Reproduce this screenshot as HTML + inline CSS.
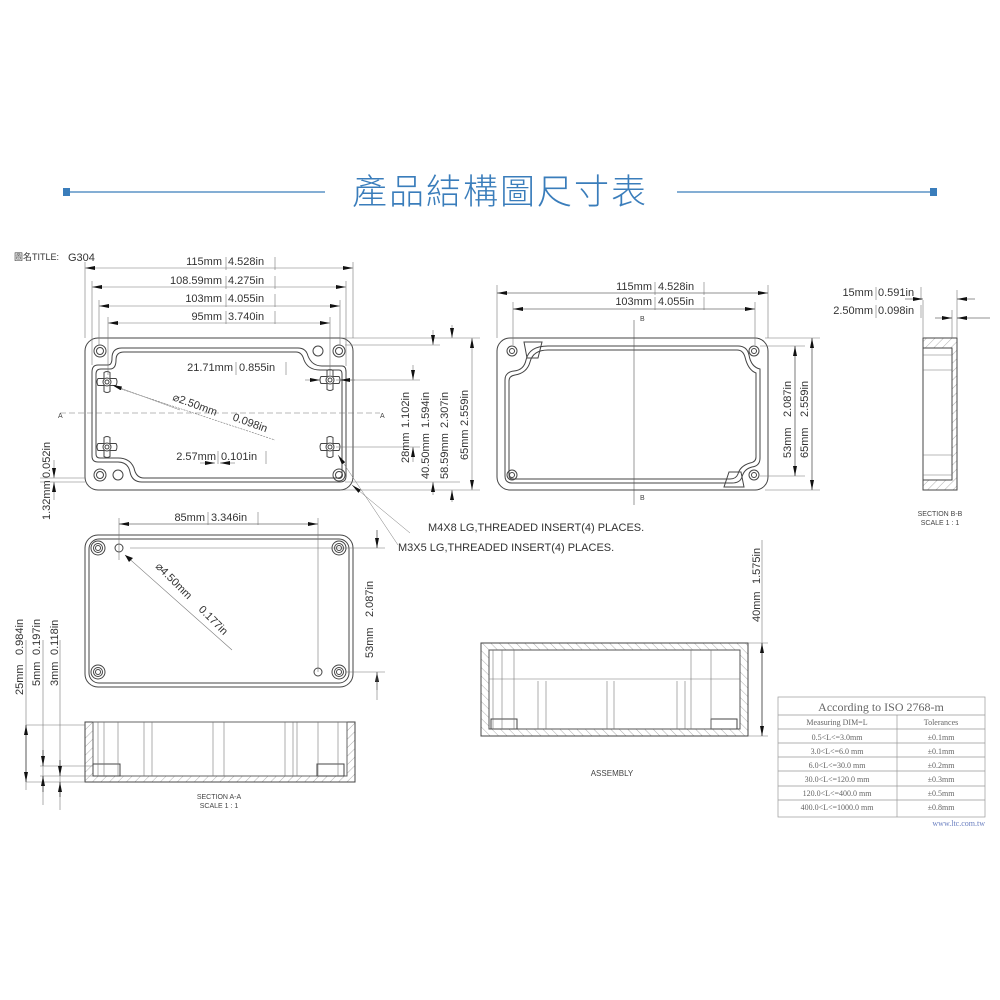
<!DOCTYPE html>
<html><head><meta charset="utf-8"><style>
html,body{margin:0;padding:0;background:#fff;}
svg{display:block;font-family:"Liberation Sans","Noto Sans CJK TC",sans-serif;}
.l{stroke:#444;stroke-width:1;fill:none}
.t{stroke:#777;stroke-width:.6;fill:none}
.d{font-size:11px;fill:#333}
.s{font-size:7px;fill:#444}
.tb{font-family:"Liberation Serif",serif;fill:#666}
</style></head><body>
<svg width="1000" height="1000" viewBox="0 0 1000 1000">
<defs>
<marker id="a" viewBox="0 0 10 4" refX="10" refY="2" markerWidth="10" markerHeight="4" orient="auto-start-reverse" markerUnits="userSpaceOnUse"><path d="M0 0L10 2L0 4z" fill="#111"/></marker>
<pattern id="h" width="6" height="6" patternUnits="userSpaceOnUse" patternTransform="rotate(45)"><line x1="0" y1="0" x2="0" y2="6" stroke="#777" stroke-width=".6"/></pattern>
<pattern id="h2" width="6" height="6" patternUnits="userSpaceOnUse" patternTransform="rotate(-45)"><line x1="0" y1="0" x2="0" y2="6" stroke="#777" stroke-width=".6"/></pattern>
<g id="boss" fill="none" stroke="#444"><path d="M-3 -10 Q0 -12 3 -10 V-4 H9 Q11 -1 9 3 H3 V9 Q0 11 -3 9 V3 H-9 Q-11 -1 -9 -4 H-3Z" transform="translate(0,0.5)"/><circle r="4"/><circle r="2"/></g>
</defs>

<!-- title -->
<line x1="66" y1="192" x2="325" y2="192" stroke="#3a7dbb" stroke-width="1.2"/>
<rect x="63" y="188" width="7" height="8" fill="#3a7dbb"/>
<line x1="677" y1="192" x2="935" y2="192" stroke="#3a7dbb" stroke-width="1.2"/>
<rect x="930" y="188" width="7" height="8" fill="#3a7dbb"/>
<text x="500" y="204" text-anchor="middle" font-size="35" font-weight="300" fill="#3a7dbb" letter-spacing="2" style="font-family:'Noto Sans CJK TC',sans-serif">產品結構圖尺寸表</text>

<text x="14" y="260" font-size="9" fill="#333">圖名TITLE:</text><text x="68" y="261" font-size="11" fill="#333">G304</text>

<!-- top-left view -->
<g class="l">
<rect x="85" y="338" width="268" height="152" rx="13"/>
<path d="M98 365 H108 Q112 365 112 358 Q112 348 122 348 H298 Q306 348 308 356 Q312 366 322 366 H342 Q346 366 346 372 V476 Q346 482 340 482 H142 Q132 482 130 472 Q128 462 118 462 H98 Q92 462 92 456 V372 Q92 365 98 365Z"/>
<path d="M101 369 H110 Q116 369 116 360 Q116 352 124 352 H296 Q302 352 304 360 Q308 370 320 370 H339 Q342 370 342 374 V474 Q342 478 338 478 H144 Q136 478 134 468 Q130 458 118 458 H100 Q96 458 96 454 V374 Q96 369 101 369Z"/>
<circle cx="100" cy="351" r="6"/><circle cx="100" cy="351" r="3.5"/>
<circle cx="339" cy="351" r="6"/><circle cx="339" cy="351" r="3.5"/>
<circle cx="100" cy="475" r="6"/><circle cx="100" cy="475" r="3.5"/>
<circle cx="339" cy="475" r="6"/><circle cx="339" cy="475" r="3.5"/>
<circle cx="318" cy="351" r="5"/><circle cx="118" cy="475" r="5"/>
</g>
<use href="#boss" x="107" y="382"/><use href="#boss" x="330" y="380"/>
<use href="#boss" x="107" y="447"/><use href="#boss" x="330" y="447"/>
<g class="t">
<line x1="85" y1="262" x2="85" y2="338"/><line x1="353" y1="262" x2="353" y2="338"/>
<line x1="92" y1="281" x2="92" y2="365"/><line x1="346" y1="281" x2="346" y2="366"/>
<line x1="99" y1="300" x2="99" y2="345"/><line x1="340" y1="300" x2="340" y2="345"/>
<line x1="108" y1="317" x2="108" y2="375"/><line x1="330" y1="317" x2="330" y2="375"/>
<line x1="60" y1="413" x2="380" y2="413" stroke-dasharray="6 3"/>
<line x1="340" y1="338" x2="480" y2="338"/><line x1="340" y1="490" x2="480" y2="490"/>
<line x1="336" y1="380" x2="420" y2="380"/><line x1="336" y1="447" x2="420" y2="447"/>
<line x1="345" y1="345" x2="440" y2="345"/><line x1="345" y1="482" x2="460" y2="482"/>
<line x1="118" y1="388" x2="275" y2="440" stroke-dasharray="2 1"/>
<line x1="40" y1="478" x2="85" y2="478"/><line x1="40" y1="482" x2="85" y2="482"/>
</g>
<g class="t" stroke="#222">
<line x1="85" y1="268" x2="353" y2="268" marker-start="url(#a)" marker-end="url(#a)"/>
<line x1="92" y1="287" x2="346" y2="287" marker-start="url(#a)" marker-end="url(#a)"/>
<line x1="99" y1="306" x2="340" y2="306" marker-start="url(#a)" marker-end="url(#a)"/>
<line x1="108" y1="323" x2="330" y2="323" marker-start="url(#a)" marker-end="url(#a)"/>
<line x1="413" y1="365" x2="413" y2="380" marker-end="url(#a)"/><line x1="413" y1="462" x2="413" y2="447" marker-end="url(#a)"/>
<line x1="433" y1="330" x2="433" y2="345" marker-end="url(#a)"/><line x1="433" y1="495" x2="433" y2="482" marker-end="url(#a)"/>
<line x1="452" y1="325" x2="452" y2="338" marker-end="url(#a)"/><line x1="452" y1="502" x2="452" y2="490" marker-end="url(#a)"/>
<line x1="472" y1="338" x2="472" y2="490" marker-start="url(#a)" marker-end="url(#a)"/>
<line x1="54" y1="460" x2="54" y2="478" marker-end="url(#a)"/><line x1="54" y1="500" x2="54" y2="482" marker-end="url(#a)"/>
<line x1="305" y1="380" x2="320" y2="380" marker-end="url(#a)"/><line x1="355" y1="380" x2="340" y2="380" marker-end="url(#a)"/>
<line x1="200" y1="463" x2="215" y2="463" marker-end="url(#a)"/><line x1="235" y1="463" x2="220" y2="463" marker-end="url(#a)"/>
<line x1="180" y1="410" x2="112" y2="385" marker-end="url(#a)" stroke-width=".5"/>
<line x1="410" y1="533" x2="352" y2="485" stroke-width=".5" marker-end="url(#a)"/>
<line x1="398" y1="545" x2="338" y2="455" stroke-width=".5" marker-end="url(#a)"/>
</g>
<g class="d">
<text x="222" y="265" text-anchor="end">115mm</text><text x="228" y="265">4.528in</text><path d="M226 257V270M275 257V270" class="t"/>
<text x="222" y="284" text-anchor="end">108.59mm</text><text x="228" y="284">4.275in</text><path d="M226 276V289M275 276V289" class="t"/>
<text x="222" y="302" text-anchor="end">103mm</text><text x="228" y="302">4.055in</text><path d="M226 294V307M275 294V307" class="t"/>
<text x="222" y="320" text-anchor="end">95mm</text><text x="228" y="320">3.740in</text><path d="M226 311V324M275 311V324" class="t"/>
<text x="233" y="371" text-anchor="end">21.71mm</text><text x="239" y="371">0.855in</text><path d="M236 362V375M286 362V375" class="t"/>
<text x="216" y="460" text-anchor="end">2.57mm</text><text x="221" y="460">0.101in</text><path d="M218 451V464M266 451V464" class="t"/>
<text transform="translate(172,400) rotate(20)">⌀2.50mm</text><text transform="translate(232,420) rotate(20)">0.098in</text>
<text transform="translate(409,463) rotate(-90)">28mm</text><text transform="translate(409,428) rotate(-90)">1.102in</text>
<text transform="translate(429,479) rotate(-90)">40.50mm</text><text transform="translate(429,428) rotate(-90)">1.594in</text>
<text transform="translate(448,479) rotate(-90)">58.59mm</text><text transform="translate(448,428) rotate(-90)">2.307in</text>
<text transform="translate(468,460) rotate(-90)">65mm</text><text transform="translate(468,426) rotate(-90)">2.559in</text>
<text transform="translate(50,520) rotate(-90)">1.32mm</text><text transform="translate(50,478) rotate(-90)">0.052in</text>
<text x="428" y="531">M4X8 LG,THREADED INSERT(4) PLACES.</text>
<text x="398" y="551">M3X5 LG,THREADED INSERT(4) PLACES.</text>
</g>
<text x="58" y="418" class="s">A</text><text x="380" y="418" class="s">A</text>

<!-- bottom-left view -->
<g class="l">
<rect x="85" y="535" width="268" height="152" rx="13"/>
<rect x="89" y="539" width="260" height="144" rx="10"/>
<circle cx="98" cy="548" r="7"/><circle cx="98" cy="548" r="4.5"/><circle cx="98" cy="548" r="2.5"/>
<circle cx="339" cy="548" r="7"/><circle cx="339" cy="548" r="4.5"/><circle cx="339" cy="548" r="2.5"/>
<circle cx="98" cy="672" r="7"/><circle cx="98" cy="672" r="4.5"/><circle cx="98" cy="672" r="2.5"/>
<circle cx="339" cy="672" r="7"/><circle cx="339" cy="672" r="4.5"/><circle cx="339" cy="672" r="2.5"/>
<circle cx="119" cy="548" r="4"/><circle cx="318" cy="672" r="4"/>
</g>
<g class="t">
<line x1="119" y1="518" x2="119" y2="560"/><line x1="318" y1="518" x2="318" y2="672"/>
<line x1="130" y1="548" x2="385" y2="548"/><line x1="345" y1="672" x2="385" y2="672"/>
<line x1="119" y1="524" x2="318" y2="524" stroke="#222" marker-start="url(#a)" marker-end="url(#a)"/>
<line x1="377" y1="530" x2="377" y2="548" stroke="#222" marker-end="url(#a)"/><line x1="377" y1="690" x2="377" y2="672" stroke="#222" marker-end="url(#a)"/>
<line x1="377" y1="672" x2="377" y2="700"/>
<line x1="125" y1="555" x2="232" y2="650"/>
</g>
<path d="M125 555 l8 3 -4 4z" fill="#111"/>
<g class="d">
<text x="205" y="521" text-anchor="end">85mm</text><text x="211" y="521">3.346in</text><path d="M208 512V525M258 512V525" class="t"/>
<text transform="translate(373,658) rotate(-90)">53mm</text><text transform="translate(373,617) rotate(-90)">2.087in</text>
<text transform="translate(155,567) rotate(45)">⌀4.50mm</text><text transform="translate(198,610) rotate(45)">0.177in</text>
<text transform="translate(23,695) rotate(-90)">25mm</text><text transform="translate(23,655) rotate(-90)">0.984in</text>
<text transform="translate(40,686) rotate(-90)">5mm</text><text transform="translate(40,655) rotate(-90)">0.197in</text>
<text transform="translate(58,686) rotate(-90)">3mm</text><text transform="translate(58,655) rotate(-90)">0.118in</text>
</g>

<!-- section A-A -->
<g class="l">
<path d="M85 722 H355 V782 H85Z" fill="url(#h)"/>
<rect x="93" y="722" width="254" height="54" fill="#fff" stroke="#666"/>
<rect x="93" y="764" width="27" height="12" fill="#fff"/><rect x="317" y="764" width="27" height="12" fill="#fff"/>
</g>
<g class="t" stroke="#555">
<path d="M98 722V776M104 722V776M118 722V776M144 722V776M152 722V776M213 722V776M224 722V776M285 722V776M293 722V776M297 722V776M318 722V776M338 722V776"/>
<line x1="26" y1="640" x2="26" y2="790"/><line x1="43" y1="640" x2="43" y2="805"/><line x1="60" y1="640" x2="60" y2="810"/>
<line x1="26" y1="725" x2="85" y2="725"/><line x1="40" y1="766" x2="93" y2="766"/><line x1="40" y1="776" x2="93" y2="776"/><line x1="26" y1="782" x2="85" y2="782"/>
<line x1="26" y1="725" x2="26" y2="782" stroke="#222" marker-start="url(#a)" marker-end="url(#a)"/>
<line x1="43" y1="750" x2="43" y2="766" stroke="#222" marker-end="url(#a)"/><line x1="43" y1="792" x2="43" y2="776" stroke="#222" marker-end="url(#a)"/>
<line x1="60" y1="760" x2="60" y2="776" stroke="#222" marker-end="url(#a)"/><line x1="60" y1="797" x2="60" y2="782" stroke="#222" marker-end="url(#a)"/>
</g>
<text x="219" y="799" text-anchor="middle" class="s">SECTION A-A</text>
<text x="219" y="808" text-anchor="middle" class="s">SCALE 1 : 1</text>

<!-- top-right view -->
<g class="l">
<rect x="497" y="338" width="271" height="152" rx="13"/>
<path d="M548 346 H738 Q747 346 749 355 Q751 367 760 369 V458 Q760 466 752 467 Q744 469 742 477 Q740 483 732 483 H512 Q505 483 505 476 V380 Q505 372 514 371 Q524 370 526 360 Q529 346 548 346Z"/>
<path d="M548 350 H737 Q743 350 745 357 Q748 370 756 373 V457 Q756 462 750 463 Q740 466 738 474 Q736 479 730 479 H513 Q509 479 509 475 V381 Q509 376 515 375 Q527 373 530 362 Q533 350 548 350Z"/>
<circle cx="512" cy="351" r="5"/><circle cx="512" cy="351" r="2.5"/>
<circle cx="754" cy="351" r="5"/><circle cx="754" cy="351" r="2.5"/>
<circle cx="512" cy="475" r="5"/><circle cx="512" cy="475" r="2.5"/>
<circle cx="754" cy="475" r="5"/><circle cx="754" cy="475" r="2.5"/>
<path d="M524 342H542L538 358H527Z"/><path d="M724 487H744L741 472H729Z"/>
</g>
<g class="t">
<line x1="634" y1="320" x2="634" y2="505" stroke="#555"/>
<line x1="497" y1="285" x2="497" y2="338"/><line x1="768" y1="285" x2="768" y2="338"/>
<line x1="513" y1="302" x2="513" y2="345"/><line x1="755" y1="302" x2="755" y2="345"/>
<line x1="765" y1="338" x2="820" y2="338"/><line x1="765" y1="490" x2="820" y2="490"/>
<line x1="760" y1="346" x2="805" y2="346"/><line x1="760" y1="476" x2="805" y2="476"/>
<line x1="497" y1="293" x2="768" y2="293" stroke="#222" marker-start="url(#a)" marker-end="url(#a)"/>
<line x1="513" y1="309" x2="755" y2="309" stroke="#222" marker-start="url(#a)" marker-end="url(#a)"/>
<line x1="795" y1="346" x2="795" y2="476" stroke="#222" marker-start="url(#a)" marker-end="url(#a)"/>
<line x1="812" y1="338" x2="812" y2="490" stroke="#222" marker-start="url(#a)" marker-end="url(#a)"/>
</g>
<text x="640" y="321" class="s">B</text><text x="640" y="500" class="s">B</text>
<g class="d">
<text x="652" y="290" text-anchor="end">115mm</text><text x="658" y="290">4.528in</text><path d="M655 282V295M704 282V295" class="t"/>
<text x="652" y="305" text-anchor="end">103mm</text><text x="658" y="305">4.055in</text><path d="M655 297V310M704 297V310" class="t"/>
<text transform="translate(791,458) rotate(-90)">53mm</text><text transform="translate(791,417) rotate(-90)">2.087in</text>
<text transform="translate(808,458) rotate(-90)">65mm</text><text transform="translate(808,417) rotate(-90)">2.559in</text>
<text x="873" y="296" text-anchor="end">15mm</text><text x="878" y="296">0.591in</text><path d="M876 287V300M921 287V300" class="t"/>
<text x="873" y="314" text-anchor="end">2.50mm</text><text x="878" y="314">0.098in</text><path d="M876 305V318M921 305V318" class="t"/>
<text transform="translate(760,622) rotate(-90)">40mm</text><text transform="translate(760,584) rotate(-90)">1.575in</text>
</g>

<!-- section B-B -->
<g class="l">
<rect x="923" y="338" width="34" height="152" fill="url(#h)"/>
<rect x="923" y="348" width="29" height="132" fill="#fff"/>
<line x1="923" y1="355" x2="952" y2="355" class="t"/><line x1="923" y1="370" x2="952" y2="370" class="t"/>
<line x1="923" y1="455" x2="952" y2="455" class="t"/><line x1="923" y1="475" x2="952" y2="475" class="t"/>
</g>
<g class="t">
<line x1="923" y1="300" x2="923" y2="338"/><line x1="957" y1="290" x2="957" y2="338"/><line x1="952" y1="310" x2="952" y2="338"/>
<line x1="905" y1="299" x2="923" y2="299" stroke="#222" marker-end="url(#a)"/><line x1="975" y1="299" x2="957" y2="299" stroke="#222" marker-end="url(#a)"/>
<line x1="935" y1="318" x2="952" y2="318" stroke="#222" marker-end="url(#a)"/><line x1="990" y1="318" x2="957" y2="318" stroke="#222" marker-end="url(#a)"/>
</g>
<text x="940" y="516" text-anchor="middle" class="s">SECTION B-B</text>
<text x="940" y="525" text-anchor="middle" class="s">SCALE 1 : 1</text>

<!-- assembly -->
<g class="l">
<rect x="481" y="643" width="267" height="93" fill="url(#h2)"/>
<rect x="489" y="650" width="251" height="79" fill="#fff" stroke="#555"/>
<line x1="489" y1="679" x2="740" y2="679" class="t" stroke="#555"/>
<rect x="491" y="719" width="26" height="10" fill="#fff"/><rect x="711" y="719" width="26" height="10" fill="#fff"/>
</g>
<g class="t" stroke="#555">
<path d="M493 650V729M502 650V729M514 650V729M538 681V729M546 681V729M607 681V729M614 681V729M677 681V729M685 681V729M691 650V729M711 650V729"/>
<line x1="748" y1="643" x2="768" y2="643"/><line x1="748" y1="736" x2="768" y2="736"/>
<line x1="762" y1="540" x2="762" y2="736"/>
<line x1="762" y1="643" x2="762" y2="736" stroke="#222" marker-start="url(#a)" marker-end="url(#a)"/>
</g>
<text x="612" y="776" text-anchor="middle" font-size="8" fill="#444">ASSEMBLY</text>

<!-- table -->
<g stroke="#999" stroke-width=".7" fill="none">
<rect x="778" y="697" width="207" height="120"/>
<line x1="778" y1="715" x2="985" y2="715"/>
<line x1="778" y1="729" x2="985" y2="729"/><line x1="778" y1="743" x2="985" y2="743"/>
<line x1="778" y1="757" x2="985" y2="757"/><line x1="778" y1="771" x2="985" y2="771"/>
<line x1="778" y1="786" x2="985" y2="786"/><line x1="778" y1="800" x2="985" y2="800"/>
<line x1="897" y1="715" x2="897" y2="817"/>
</g>
<g class="tb" text-anchor="middle" font-size="8">
<text x="881" y="711" font-size="12">According to ISO 2768-m</text>
<text x="837" y="725">Measuring  DIM=L</text><text x="941" y="725">Tolerances</text>
<text x="837" y="740">0.5&lt;L&lt;=3.0mm</text><text x="941" y="740">±0.1mm</text>
<text x="837" y="754">3.0&lt;L&lt;=6.0 mm</text><text x="941" y="754">±0.1mm</text>
<text x="837" y="768">6.0&lt;L&lt;=30.0 mm</text><text x="941" y="768">±0.2mm</text>
<text x="837" y="782">30.0&lt;L&lt;=120.0 mm</text><text x="941" y="782">±0.3mm</text>
<text x="837" y="796">120.0&lt;L&lt;=400.0 mm</text><text x="941" y="796">±0.5mm</text>
<text x="837" y="810">400.0&lt;L&lt;=1000.0 mm</text><text x="941" y="810">±0.8mm</text>
</g>
<text x="985" y="826" text-anchor="end" font-size="8" fill="#6a7fc0" style="font-family:'Liberation Serif',serif">www.ltc.com.tw</text>
</svg>
</body></html>
